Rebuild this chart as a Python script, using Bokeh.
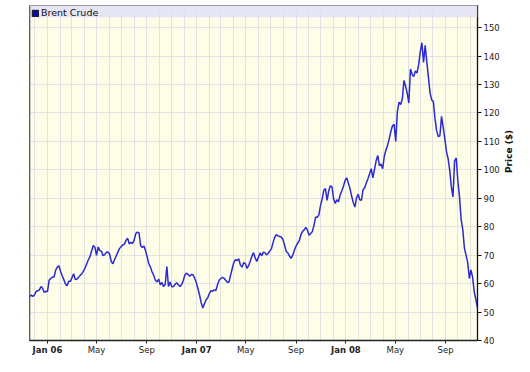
import math
import pandas as pd
from bokeh.plotting import figure
from bokeh.models import (Range1d, MonthsTicker, FixedTicker, CustomJSTickFormatter,
                          BoxAnnotation, Legend, LegendItem, Span, DatetimeAxis)
from bokeh.core.properties import value
from bokeh.embed import file_html
from bokeh.resources import INLINE

# ---------------- data ----------------
series_name = "Brent Crude"
first_date = "2005-11-18"          # first observation, one value every 4 days
step = "4D"
prices = [
    55.4, 56.0, 55.5, 56.0, 57.2, 57.5, 57.7, 59.0, 58.4, 56.9,
    57.3, 57.2, 61.2, 61.8, 62.3, 62.3, 64.7, 65.8, 66.3, 64.3,
    62.8, 61.4, 59.9, 59.3, 60.8, 60.8, 62.1, 63.5, 61.4, 61.6,
    62.2, 62.9, 63.5, 64.4, 65.5, 67.0, 68.4, 69.5, 71.5, 73.4,
    72.8, 69.9, 72.9, 71.6, 71.4, 69.8, 70.2, 71.0, 71.1, 70.4,
    67.8, 67.0, 68.4, 69.7, 71.0, 72.3, 73.0, 73.6, 73.8, 75.2,
    76.0, 74.0, 74.5, 74.1, 75.3, 77.6, 78.1, 77.8, 73.3, 72.7,
    73.2, 71.6, 69.3, 66.9, 65.8, 64.1, 62.9, 61.2, 60.6, 61.6,
    59.6, 60.4, 59.0, 59.7, 66.0, 59.0, 60.6, 58.9, 59.0, 59.7,
    60.3, 59.6, 59.0, 59.6, 61.0, 63.0, 63.7, 63.2, 62.6, 63.2,
    63.1, 62.0, 60.4, 58.3, 56.0, 53.3, 51.4, 52.9, 54.3, 55.0,
    56.5, 57.5, 57.3, 57.8, 57.6, 59.6, 61.2, 61.8, 62.2, 61.9,
    61.2, 60.5, 60.5, 63.0, 65.3, 67.5, 68.4, 68.1, 68.7, 66.5,
    65.8, 67.4, 67.0, 65.4, 66.3, 67.9, 69.6, 70.9, 69.1, 67.8,
    69.3, 70.8, 69.8, 71.0, 70.9, 70.1, 70.7, 71.5, 72.3, 74.5,
    76.4, 77.2, 76.8, 76.6, 76.4, 75.5, 73.6, 71.4, 70.8, 69.7,
    68.9, 70.0, 71.7, 73.2, 74.2, 75.1, 77.2, 78.3, 78.9, 79.8,
    78.8, 77.0, 77.6, 78.3, 80.5, 83.4, 83.3, 84.2, 87.5, 89.8,
    92.8, 93.4, 89.3, 92.6, 94.4, 94.0, 89.8, 88.2, 89.5, 88.8,
    91.2, 92.6, 94.2, 96.3, 97.2, 95.4, 93.5, 90.8, 88.6, 86.9,
    90.1, 91.4, 89.5, 89.3, 93.0, 93.7, 95.4, 96.9, 98.6, 100.4,
    97.2, 100.2, 103.2, 105.1, 101.5, 102.0, 100.4, 104.8, 107.0, 108.6,
    110.9, 113.5, 115.5, 116.0, 110.0, 120.5, 123.8, 123.0, 124.8, 131.4,
    129.5, 127.0, 123.5, 135.5, 133.6, 132.8, 134.8, 134.0, 137.0, 141.6,
    144.7, 137.8, 143.8, 138.0, 132.5, 127.0, 124.6, 124.0, 118.0, 113.8,
    111.7, 112.0, 118.8, 115.0, 111.0, 106.5, 104.0, 100.0, 94.0, 90.5,
    103.2, 104.2, 96.0, 90.5, 82.6, 79.0, 72.5, 70.0, 67.5, 61.8,
    64.8, 62.3, 57.1, 54.5, 51.5,
]
month_names = ["Jan", "Feb", "Mar", "Apr", "May", "Jun",
               "Jul", "Aug", "Sep", "Oct", "Nov", "Dec"]
label_months = [0, 4, 8]                 # Jan, May, Sep (0-based)
year_numbers = [2006, 2007, 2008]
year_labels = ["Jan 06", "Jan 07", "Jan 08"]
y_ticks = [40, 50, 60, 70, 80, 90, 100, 110, 120, 130, 140, 150]
y_title = "Price ($)"
x_start, x_end = "2005-11-18", "2008-11-18"
y_min, y_max = 40, 157.8
band_bottom = 153.7

dates = pd.date_range(first_date, periods=len(prices), freq=step)

# ---------------- layout ----------------
W, H = 530, 372
L, R, T, B = 29, 53, 5, 32
FONT = "DejaVu Sans"
TXT = "#222222"

def ms(d):
    return pd.Timestamp(d).value / 1e6

xs0, xs1 = ms(x_start), ms(x_end)

p = figure(width=W, height=H, x_axis_type="datetime",
           x_range=Range1d(xs0, xs1), y_range=Range1d(y_min, y_max),
           y_axis_location="right", toolbar_location=None, output_backend="svg",
           min_border_left=L, min_border_right=R, min_border_top=T, min_border_bottom=B,
           background_fill_color="#fdfde8", border_fill_color="white",
           outline_line_color="#8a8a8a", outline_line_width=1)

# grids
p.xgrid[0].ticker = MonthsTicker(months=list(range(12)))
p.xgrid[0].grid_line_color = "#e2e2e2"
p.ygrid[0].ticker = FixedTicker(ticks=y_ticks)
p.ygrid[0].grid_line_color = "#e2e2e2"

# legend band
p.add_layout(BoxAnnotation(bottom=band_bottom, fill_color="#e0e0f6", fill_alpha=0.85,
                           line_color=None))

# data line
p.line(dates, prices, line_color="#2a2ad4", line_width=1.5)

# legend swatch (hidden zero-size box on the first observation)
swatch = p.quad(left=[dates[0]], right=[dates[0]], top=[prices[0]], bottom=[prices[0]],
                fill_color="#0a0aa8", line_color="#111111", visible=False)
legend = Legend(items=[LegendItem(label=value(series_name), renderers=[swatch])],
                location="top_left", margin=0, padding=2, spacing=0,
                glyph_width=8, glyph_height=8, label_standoff=2, label_height=8,
                label_text_font=FONT, label_text_font_size="9.5px", label_text_color="#111111",
                background_fill_alpha=0, border_line_alpha=0,
                inactive_fill_alpha=0)
p.add_layout(legend)

# x axis: month labels (January left blank, drawn bold by the second axis)
xa = p.xaxis[0]
xa.ticker = MonthsTicker(months=label_months)
xa.formatter = CustomJSTickFormatter(args=dict(names=month_names), code="""
const m = new Date(tick).getUTCMonth();
return m == 0 ? '' : names[m];
""")
xa.major_label_text_font = FONT
xa.major_label_text_font_size = "8.5px"
xa.major_label_text_color = TXT
xa.major_tick_out = 3
xa.major_tick_in = 0
xa.minor_tick_out = 0
xa.minor_tick_in = 0
xa.major_tick_line_color = TXT
xa.axis_line_color = TXT
xa.axis_line_width = 1.5
xa.major_label_standoff = 1

# second x axis stacked below the first; a negative standoff pulls its
# bold year labels back up onto the same row as the month labels
ja = DatetimeAxis(ticker=MonthsTicker(months=[0]),
                  formatter=CustomJSTickFormatter(args=dict(years=year_numbers, labels=year_labels), code="""
const i = years.indexOf(new Date(tick).getUTCFullYear());
return i >= 0 ? labels[i] : '';
"""),
                  major_tick_out=0, major_tick_in=0, minor_tick_out=0, minor_tick_in=0,
                  major_tick_line_color=None, axis_line_color=None,
                  major_label_standoff=-13,
                  major_label_text_font=FONT, major_label_text_font_size="8.5px",
                  major_label_text_font_style="bold", major_label_text_color=TXT)
p.add_layout(ja, "below")

# y axis (right)
ya = p.yaxis[0]
ya.ticker = FixedTicker(ticks=y_ticks)
ya.major_label_text_font = FONT
ya.major_label_text_font_size = "8.5px"
ya.major_label_text_color = TXT
ya.major_tick_out = 4
ya.major_tick_in = 0
ya.minor_tick_out = 0
ya.minor_tick_in = 0
ya.major_tick_line_color = "#111111"
ya.axis_line_color = "#111111"
ya.axis_line_width = 1.3
ya.major_label_standoff = 2
ya.axis_label = y_title
ya.axis_label_text_font = FONT
ya.axis_label_text_font_size = "9px"
ya.axis_label_text_font_style = "bold"
ya.axis_label_text_color = "#111111"
ya.axis_label_standoff = 6
if "axis_label_orientation" in ya.properties():
    ya.axis_label_orientation = math.pi / 2

# left frame edge darker
p.add_layout(Span(location=xs0, dimension="height", line_color="#333333", line_width=1.5))

open("out.html", "w").write(file_html(p, INLINE))
